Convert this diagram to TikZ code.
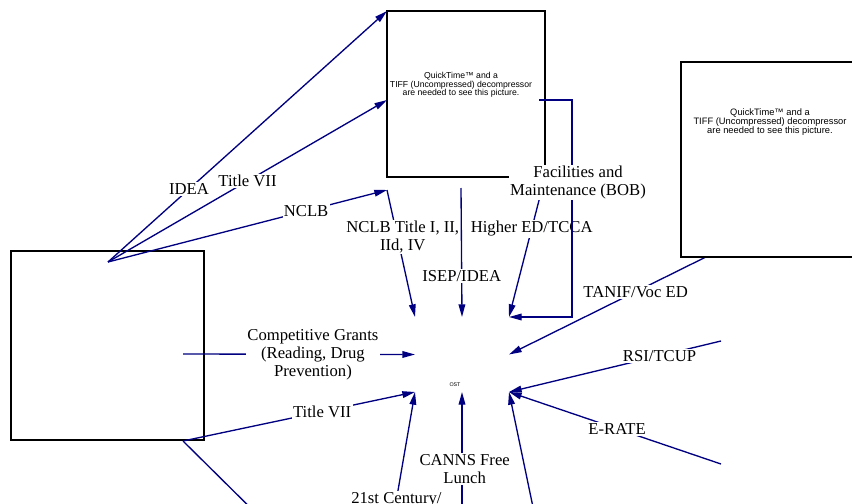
\documentclass[tikz,border=0pt]{standalone}
\usepackage{fontspec}
\setmainfont{Liberation Serif}
\newfontfamily\qtfont{Liberation Sans}
\usepackage{tikz}
\usetikzlibrary{positioning}
\usetikzlibrary{arrows.meta}
\definecolor{navyline}{RGB}{0,0,128}

\begin{document}
\begin{tikzpicture}[
        x = 0.75pt, y = -0.75pt,
        box/.style = {
            draw,
            rectangle,
            line width = 0.9pt,
            inner sep = 0pt,
            outer sep = 0pt
        },
        hub/.style = {
            rectangle,
            minimum width = 70.5pt,
            minimum height = 56.25pt,
            inner sep = 0pt,
            outer sep = 0pt
        },
        qt/.style = {
            align = center,
            inner sep = 0pt,
            text = black,
            font = \qtfont\fontsize{#1}{#1}\selectfont
        },
        qt/.default = 6.5,
        lbl/.style = {
            fill = white,
            text = black,
            align = center,
            inner sep = 1pt,
            font = \fontsize{12.5}{13.5}\selectfont
        },
        flow/.style = {
            -{Triangle[length = 9.5pt, width = 5pt]},
            line width = 1pt,
            navyline
        },
        link/.style = {
            line width = 1pt,
            navyline
        }
        ]
        \useasboundingbox (0,0) rectangle (852,503);
%
        \node[box, minimum width = 118.5pt, minimum height = 124.5pt] (picA) at (466,94) {};
        \node[qt] (qtA) at (461,85) {QuickTime™ and a\\TIFF (Uncompressed) decompressor\\are needed to see this picture.};
        \node[box, minimum width = 144.75pt, minimum height = 141.75pt] (picC) at (107.5,345.5) {};
        \node[hub] (ost) at (462,354.5) {};
        \node[qt = 4] (ostname) at (455,385) {OST};
%
        \coordinate (lsrc) at (108,262);
        \coordinate (lmid) at (183,354);
        \coordinate (lcorner) at (183,441);
        \coordinate (leftexit) at (280,537);
        \coordinate (nclbjoint) at (387,190);
        \coordinate (isepsrc) at (461,188);
        \coordinate (facsrc) at (539,100);
        \coordinate (facbend) at (572,317);
        \coordinate (tanifsrc) at (720,250);
        \coordinate (rsisrc) at (721,341);
        \coordinate (eratesrc) at (721,464);
        \coordinate (centsrc) at (386,560);
        \coordinate (cannssrc) at (462,560);
        \coordinate (lastsrc) at (544,560);
%
% from the left box
        \draw[flow] (lsrc) -- node[lbl, pos = 0.29] {IDEA} (picA.north west);
        \draw[flow] (lsrc) -- node[lbl, pos = 0.5] {Title VII} ([yshift = -4.5pt]picA.west);
        \draw[flow] (lsrc) -- node[lbl, pos = 0.71] {NCLB} (nclbjoint);
        \draw[flow] (lmid) -- node[lbl, pos = 0.56] {Competitive Grants\\(Reading, Drug\\Prevention)} (ost.west);
        \draw[flow] (lcorner) -- node[lbl, pos = 0.6] {Title VII} (ost.south west);
        \draw[link] (lcorner) -- (leftexit);
%
% from the top box
        \draw[flow] (nclbjoint) -- node[lbl, pos = 0.37, xshift = 4pt] {NCLB Title I, II,\\IId, IV} (ost.north west);
        \draw[flow] (isepsrc) -- node[lbl, pos = 0.68] {ISEP/IDEA} (ost.north);
        \draw[flow] (picA.south east) -- node[lbl, pos = 0.37] {Higher ED/TCCA} (ost.north east);
        \draw[flow] (facsrc) -| node[lbl, pos = 0.69, xshift = 4.5pt] {Facilities and\\Maintenance (BOB)} (facbend) -- (ost.north east);
%
% from the right
        \draw[flow] (tanifsrc) -- node[lbl, pos = 0.4] {TANIF/Voc ED} (ost.east);
        \draw[flow] (rsisrc) -- node[lbl, pos = 0.29] {RSI/TCUP} (ost.south east);
        \draw[flow] (eratesrc) -- node[lbl, pos = 0.49] {E-RATE} (ost.south east);
%
% from below
        \draw[flow] (centsrc) -- node[lbl, pos = 0.36] {21st Century/} (ost.south west);
        \draw[flow] (cannssrc) -- node[lbl, pos = 0.54, xshift = 2pt] {CANNS Free\\Lunch} (ost.south);
        \draw[flow] (lastsrc) -- (ost.south east);
%
        \node[box, fill = white, minimum width = 133.5pt, minimum height = 146.25pt] (picB) at (770,159.5) {};
        \node[qt = 7] (qtB) at (770,122) {QuickTime™ and a\\TIFF (Uncompressed) decompressor\\are needed to see this picture.};
%
\end{tikzpicture}
\end{document}
